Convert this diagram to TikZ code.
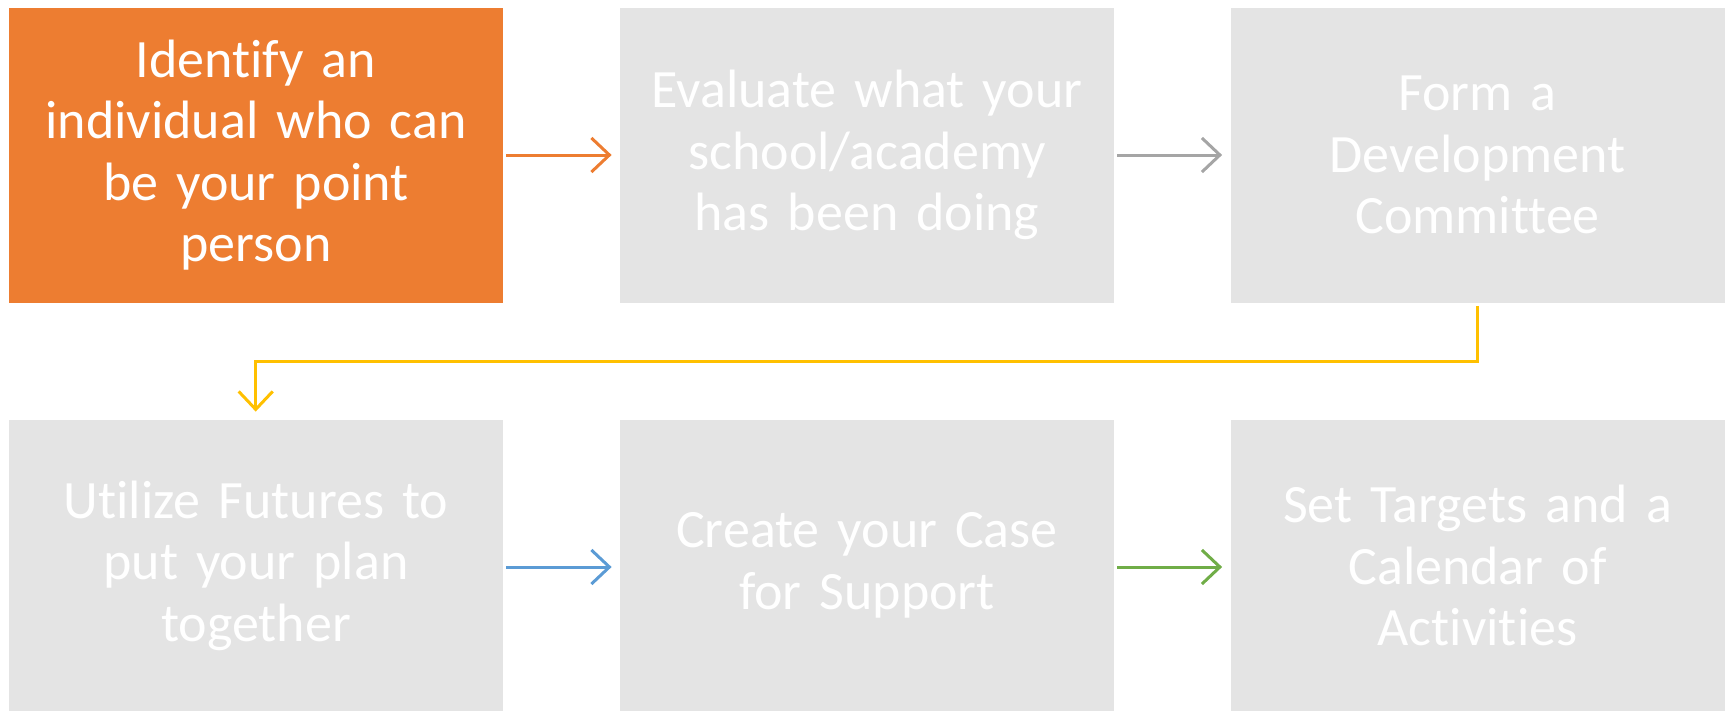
\documentclass[tikz,border=0pt]{standalone}
\usepackage{fontspec}
\setmainfont{Carlito}[Ligatures={NoCommon}]
\usetikzlibrary{arrows.meta}
\definecolor{orangeA}{HTML}{ED7D31}
\definecolor{boxgrey}{HTML}{E4E4E4}
\definecolor{arrgrey}{HTML}{A5A5A5}
\definecolor{arryellow}{HTML}{FFC000}
\definecolor{arrblue}{HTML}{5B9BD5}
\definecolor{arrgreen}{HTML}{70AD47}
\tikzset{
  stepbox/.style={rectangle, fill=boxgrey, draw=none, minimum width=247pt, minimum height=147.5pt,
    text=white, align=center, text width=244pt, inner sep=0pt,
    font=\fontsize{27}{30.7}\selectfont},
  conn/.style={line width=1.5pt, -{Straight Barb[length=9pt,width=17pt,line width=1.5pt]}, shorten <=1.5pt, shorten >=4pt}
}
\begin{document}
\begin{tikzpicture}[x=0.5pt,y=-0.5pt]
\useasboundingbox (0,0) rectangle (1729,712);
\node[stepbox, fill=orangeA] (b1) at (256,155) {Identify an\\individual who can\\be your point\\person};
\node[stepbox] (b2) at (867,155) {Evaluate what your\\school/academy\\has been doing};
\node[stepbox] (b3) at (1477.5,155) {Form a\\Development\\Committee};
\node[stepbox, minimum height=145.5pt] (b4) at (256,565.5) {Utilize Futures to\\put your plan\\together};
\node[stepbox, minimum height=145.5pt] (b5) at (867,565.5) {Create your Case\\for Support};
\node[stepbox, minimum height=145.5pt] (b6) at (1477.5,565.5) {Set Targets and a\\Calendar of\\Activities};
\coordinate (c1) at (1477.5,361);
\coordinate (c2) at (255.7,361);
\draw[conn, color=orangeA] (b1.east) -- (b2.west);
\draw[conn, color=arrgrey] (b2.east) -- (b3.west);
\draw[conn, color=arryellow, line join=miter] (b3.south) -- (c1) -- (c2) -- (c2 |- b4.north);
\draw[conn, color=arrblue] (b4.east |- 0,567) -- (b5.west |- 0,567);
\draw[conn, color=arrgreen] (b5.east |- 0,567) -- (b6.west |- 0,567);
\end{tikzpicture}
\end{document}
